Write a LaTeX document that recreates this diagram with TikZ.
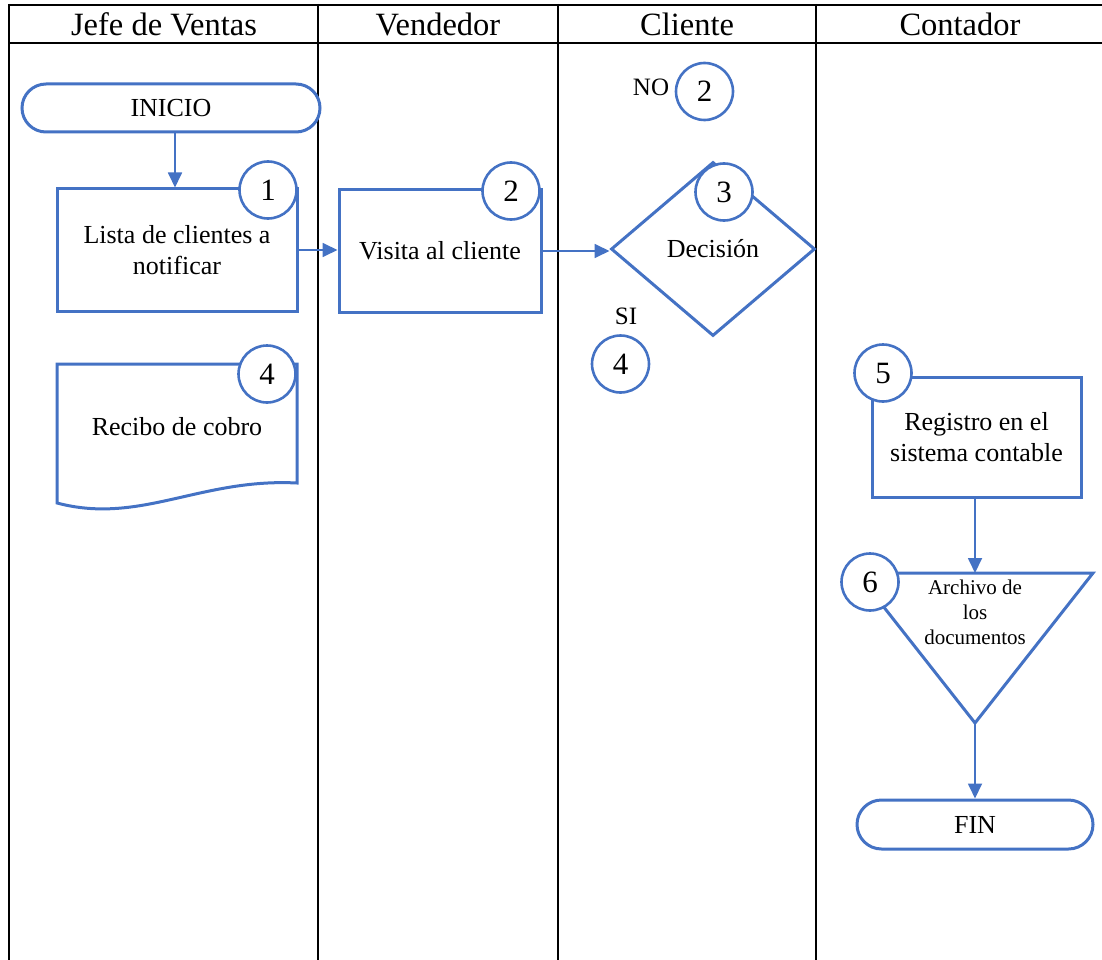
\documentclass[tikz,border=0pt]{standalone}
\usepackage{fontspec}
\setmainfont{Liberation Serif}
\usetikzlibrary{shapes.geometric,shapes.misc,arrows.meta,calc}
\definecolor{flow}{RGB}{68,114,196}
\newcommand\hdrfont{\fontsize{32.5}{38}\selectfont}
\newcommand\bodyfont{\fontsize{26}{31}\selectfont}
\newcommand\numfont{\fontsize{31}{36}\selectfont}
\newcommand\notefont{\fontsize{25}{30}\selectfont}
\newcommand\tinyfont{\fontsize{21}{25}\selectfont}
\begin{document}
\begin{tikzpicture}[x=1pt,y=-1pt,
  lane/.style={line width=2.2pt,black},
  hdr/.style={font=\hdrfont,anchor=base,inner sep=0pt},
  outline/.style={draw=flow,line width=3pt,fill=white},
  flowbox/.style={outline,inner sep=0pt,align=center,font=\bodyfont},
  term/.style={flowbox,rounded rectangle},
  numc/.style={circle,draw=flow,line width=2.6pt,fill=white,minimum size=57pt,inner sep=0pt,font=\numfont},
  note/.style={font=\notefont,inner sep=0pt},
  conn/.style={draw=flow,line width=1.8pt,-{Triangle[length=15pt,width=14pt]}},
]
\useasboundingbox (0,0) rectangle (1102,960);

% swimlane grid
\draw[lane] (8,5) -- (1102,5);
\draw[lane] (8,43) -- (1102,43);
\foreach \x in {9,318,558,816} \draw[lane] (\x,4) -- (\x,960);

% lane titles
\node[hdr] (hjefe) at (164,36) {Jefe de Ventas};
\node[hdr] (hvend) at (438,36) {Vendedor};
\node[hdr] (hcli) at (687,36) {Cliente};
\node[hdr] (hcont) at (960,36) {Contador};

% Jefe de Ventas
\node[term,minimum width=298pt,minimum height=48pt] (inicio) at (171,108) {INICIO};
\node[flowbox,minimum width=240pt,minimum height=122pt] (box1) at (177,250) {Lista de clientes a\\notificar};
\node[numc] (n1) at (268,190) {1};

\draw[outline] (57,364) -- (297,364) -- (297,483)
  .. controls (200,478) and (140,525) .. (57,503) -- cycle;
\node[font=\bodyfont,inner sep=0pt] (doc) at (177,427) {Recibo de cobro};
\node[numc] (n4) at (267,374) {4};

% Vendedor
\node[flowbox,minimum width=202pt,minimum height=122pt] (box2) at (440,251) {Visita al cliente};
\node[numc] (n2) at (511,191) {2};

% Cliente
\node[flowbox,diamond,minimum width=204pt,minimum height=174pt] (dec) at (713,249) {Decisión};
\node[numc] (n3) at (724,192) {3};
\node[note] (no) at (651,87) {NO};
\node[numc] (nno) at (704.5,91.5) {2};
\node[note] (si) at (626,316) {SI};
\node[numc] (nsi) at (620.5,364) {4};

% Contador
\node[flowbox,minimum width=209pt,minimum height=120pt] (box5) at (976.5,437) {Registro en el\\sistema contable};
\node[numc] (n5) at (883,373) {5};

\coordinate (tritop) at (975,573);
\coordinate (tribot) at (975,723);
\draw[outline] (857,573) -- (1093,573) -- (tribot) -- cycle;
\node[align=center,font=\tinyfont,inner sep=0pt] (arch) at (975,612) {Archivo de\\los\\documentos};
\node[numc] (n6) at (870,582) {6};

\node[term,minimum width=236pt,minimum height=49pt] (fin) at (975,824.5) {FIN};

% connectors
\draw[conn] ($(inicio.south)+(4,0)$) -- ($(box1.north)+(-2,0)$);
\draw[conn] (box1.east) -- (box1.east -| box2.west);
\draw[conn] (box2.east) -- (box2.east -| dec.west);
\draw[conn] (box5.south -| tritop) -- (tritop);
\draw[conn] (tribot) -- (fin.north);
\end{tikzpicture}
\end{document}
